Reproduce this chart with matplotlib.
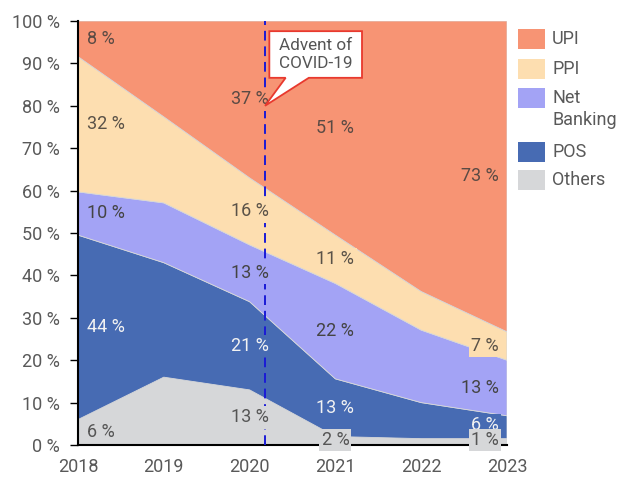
import matplotlib
matplotlib.use("Agg")
import matplotlib.pyplot as plt
from matplotlib.patches import Polygon, Rectangle
from matplotlib.ticker import FuncFormatter

plt.rcParams['font.family'] = ['Roboto', 'DejaVu Sans']

years = [2018, 2019, 2020, 2021, 2022, 2023]
others = [6.0, 16.0, 13.0, 2.0, 1.5, 1.5]
pos = [43.5, 27.0, 20.8, 13.6, 8.5, 5.4]
net_banking = [10.2, 14.1, 13.4, 22.5, 17.1, 13.1]
ppi = [31.9, 20.3, 15.8, 11.4, 9.1, 6.7]
upi = [100 - a - b - c - d for a, b, c, d in zip(others, pos, net_banking, ppi)]

series_names = ["Others", "POS", "Net\nBanking", "PPI", "UPI"]
colors = ["#D6D7D9", "#476BB3", "#A3A3F5", "#FDDEB0", "#F79474"]

label_years = [2018, 2020, 2021, 2023]
others_labels = [6, 13, 2, 1]
pos_labels = [44, 21, 13, 6]
net_banking_labels = [10, 13, 22, 13]
ppi_labels = [32, 16, 11, 7]
upi_labels = [8, 37, 51, 73]

covid_x = 2020.18

W, H = 620, 479
fig = plt.figure(figsize=(W / 100, H / 100), dpi=100)
ax = fig.add_axes([78 / W, 1 - 445 / H, (507 - 78) / W, (445 - 21) / H])

data = [others, pos, net_banking, ppi, upi]
ax.stackplot(years, data, colors=colors, linewidth=0.6, edgecolors=colors)

ax.set_xlim(2018, 2023)
ax.set_ylim(0, 100)
ax.set_xticks(years)
ax.set_yticks(range(0, 101, 10))
ax.yaxis.set_major_formatter(FuncFormatter(lambda v, p: f"{int(v)} %"))
ax.tick_params(axis='x', length=0, pad=9, labelsize=13, labelcolor="#595959")
ax.tick_params(axis='y', length=6, width=1, pad=7, labelsize=13, labelcolor="#595959")
for s in ["top", "right"]:
    ax.spines[s].set_visible(False)
for s in ["left", "bottom"]:
    ax.spines[s].set_linewidth(1.5)
    ax.spines[s].set_color("black")
ax.spines["bottom"].set_zorder(1)

# labels
all_labels = [others_labels, pos_labels, net_banking_labels, ppi_labels, upi_labels]
text_colors = ["#555555", "#F2F2F2", "#444444", "#5a5248", "#5a4a44"]
for j, ly in enumerate(label_years):
    idx = years.index(ly)
    base = 0.0
    for k in range(5):
        val = data[k][idx]
        mid = base + val / 2
        base += val
        if ly == 2018:
            x, ha = ly + 0.1, 'left'
        elif ly == 2023:
            x, ha = ly - 0.1, 'right'
        else:
            x, ha = ly, 'center'
        if k == 0:
            mid = max(mid, 1.2)
        if k == 1 and ly == 2023:
            mid += 0.5
        ax.text(x, mid, f"{all_labels[k][j]} %", ha=ha, va='center', fontsize=13,
                color=text_colors[k], zorder=6 if k == 0 else 5, clip_on=False,
                bbox=dict(boxstyle='square,pad=0.12', fc=colors[k], ec='none'))

# COVID line
ax.axvline(covid_x, color="#1a1ad6", lw=1.4, linestyle=(0, (5, 3)), zorder=4)

# callout
L, R, T, B = 2020.23, 2021.31, 97.6, 86.6
p1, p2 = 2020.42, 2020.69
tip = (covid_x, 80.0)
callout = Polygon([(L, T), (R, T), (R, B), (p2, B), tip, (p1, B), (L, B)], closed=True,
                  fc="white", ec="#E8392E", lw=1.3, zorder=6)
ax.add_patch(callout)
ax.text((L + R) / 2, (T + B) / 2, "Advent of\nCOVID-19", ha='center', va='center',
        fontsize=12.3, color="#555555", zorder=7, linespacing=1.2)

# legend (drawn manually to match reference spacing)
legend_order = [4, 3, 2, 1, 0]
square_tops = [29, 59, 88, 142, 170]
for k, top in zip(legend_order, square_tops):
    fig.patches.append(Rectangle((518 / W, 1 - (top + 20) / H), 27 / W, 20 / H,
                                 transform=fig.transFigure, fc=colors[k], ec='none'))
    if "\n" in series_names[k]:
        fig.text(552 / W, 1 - (top + 10) / H, series_names[k].split("\n")[0],
                 ha='left', va='center', fontsize=13, color="#595959")
        fig.text(552 / W, 1 - (top + 32) / H, series_names[k].split("\n")[1],
                 ha='left', va='center', fontsize=13, color="#595959")
    else:
        fig.text(552 / W, 1 - (top + 10) / H, series_names[k],
                 ha='left', va='center', fontsize=13, color="#595959")

fig.savefig("out.png", dpi=100)
